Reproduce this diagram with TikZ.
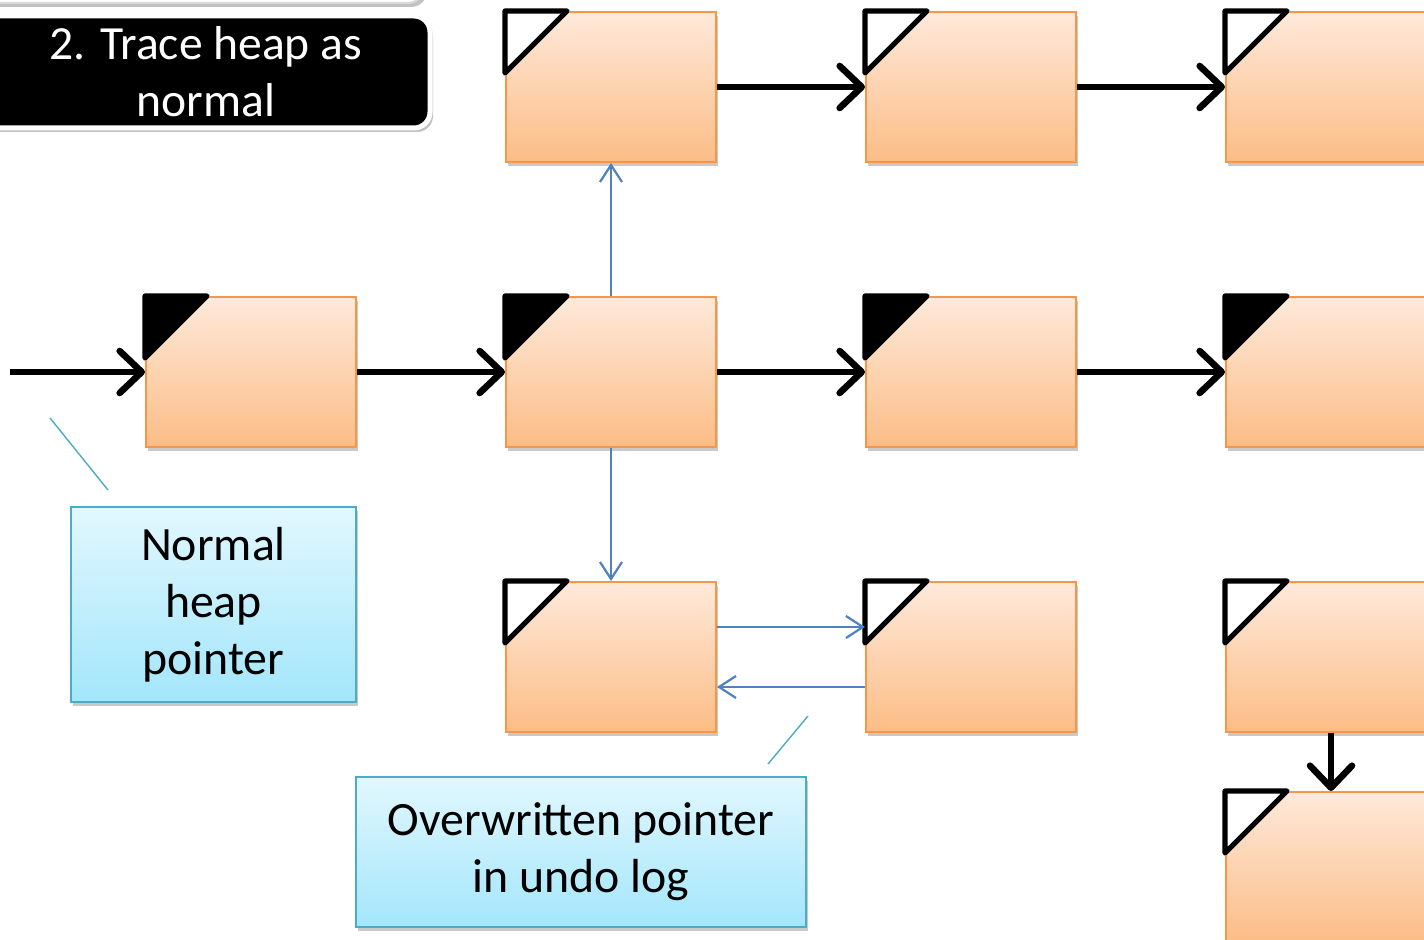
\documentclass[tikz,border=0pt]{standalone}
\usepackage{fontspec}
\setmainfont{Carlito}
\usetikzlibrary{arrows.meta,shadows}
\definecolor{orangeline}{HTML}{F79646}
\definecolor{orangetop}{HTML}{FEE9DA}
\definecolor{orangebot}{HTML}{FBBD86}
\definecolor{calloutline}{HTML}{4BACC6}
\definecolor{callouttop}{HTML}{E2F7FD}
\definecolor{calloutbot}{HTML}{A3E6FB}
\definecolor{ptrblue}{HTML}{4F81BD}
\tikzset{
  boxshadow/.style={drop shadow={shadow xshift=1.2pt, shadow yshift=-1.8pt, opacity=0.35, fill=black!60}},
  heapbox/.style={draw=orangeline, line width=1pt, top color=orangetop, bottom color=orangebot,
    minimum width=105pt, minimum height=75pt, inner sep=0pt, boxshadow},
  corner/.style={draw=black, line width=2.6pt, line join=round, line cap=round},
  blk/.style={draw=black, line width=3.3pt, -{Straight Barb[length=11pt, width=21pt, round]}},
  ptr/.style={draw=ptrblue, line width=1.1pt, -{Straight Barb[length=8.5pt, width=11pt]}},
  callout/.style={draw=calloutline, line width=1pt, top color=callouttop, bottom color=calloutbot,
    inner sep=0pt, align=center, font=\fontsize{23.9}{28.5}\selectfont, boxshadow},
  leader/.style={draw=calloutline, line width=0.7pt},
  titlebox/.style={fill=black, draw=white, line width=2.5pt, rounded corners=8pt, text=white,
    align=center, font=\fontsize{23.8}{28.5}\selectfont, inner sep=0pt,
    drop shadow={shadow xshift=1.5pt, shadow yshift=-2pt, opacity=0.4, fill=black!60}},
  topbox/.style={fill=white, draw=black!15, line width=1pt, rounded corners=8pt,
    drop shadow={shadow xshift=1.5pt, shadow yshift=-2pt, opacity=0.4, fill=black!60}}
}
\begin{document}
\begin{tikzpicture}[x=0.5pt,y=-0.5pt]
\useasboundingbox (0,0) rectangle (1424,940);
\clip (0,0) rectangle (1424,940);
\fill[white] (0,0) rectangle (1424,940);

% top-left boxes
\node[topbox, minimum width=221pt, minimum height=32pt] (prev) at (203,-29) {};
\node[titlebox, minimum width=224pt, minimum height=56pt] (title) at (206,72) {2. Trace heap as\\normal};

% heap boxes
\node[heapbox] (r1c2) at (611,87) {};
\node[heapbox] (r1c3) at (971,87) {};
\node[heapbox] (r1c4) at (1331,87) {};
\node[heapbox] (r2c1) at (251,372) {};
\node[heapbox] (r2c2) at (611,372) {};
\node[heapbox] (r2c3) at (971,372) {};
\node[heapbox] (r2c4) at (1331,372) {};
\node[heapbox] (r3c2) at (611,657) {};
\node[heapbox] (r3c3) at (971,657) {};
\node[heapbox] (r3c4) at (1331,657) {};
\node[heapbox] (r4c4) at (1331,867) {};

% corner marks
\foreach \b in {r1c2,r1c3,r1c4,r3c2,r3c3,r3c4,r4c4}{
  \draw[corner, fill=white] (\b.north west) -- ++(62,0) -- ++(-62,62) -- cycle;
}
\foreach \b in {r2c1,r2c2,r2c3,r2c4}{
  \draw[corner, fill=black] (\b.north west) -- ++(62,0) -- ++(-62,62) -- cycle;
}

% black pointers
\coordinate (start) at (10,372);
\draw[blk] (start) -- (r2c1.west);
\draw[blk] (r2c1.east) -- (r2c2.west);
\draw[blk] (r2c2.east) -- (r2c3.west);
\draw[blk] (r2c3.east) -- (r2c4.west);
\draw[blk] (r1c2.east) -- (r1c3.west);
\draw[blk] (r1c3.east) -- (r1c4.west);
\draw[blk] (r3c4.south) -- (r4c4.north);

% blue pointers
\draw[ptr] (r2c2.north) -- (r1c2.south);
\draw[ptr] (r2c2.south) -- (r3c2.north);
\draw[ptr] ([yshift=15pt]r3c2.east) -- ([yshift=15pt]r3c3.west);
\draw[ptr] ([yshift=-15pt]r3c3.west) -- ([yshift=-15pt]r3c2.east);

% callouts
\node[callout, minimum width=142.5pt, minimum height=97.5pt] (normal) at (213.5,604.5) {Normal\\heap\\pointer};
\node[callout, minimum width=225pt, minimum height=75pt] (over) at (581,852) {Overwritten pointer\\in undo log};
\coordinate (l1a) at (50,418);
\coordinate (l1b) at (108,490);
\coordinate (l2a) at (808,716);
\coordinate (l2b) at (768,764);
\draw[leader] (l1a) -- (l1b);
\draw[leader] (l2a) -- (l2b);
\end{tikzpicture}
\end{document}
